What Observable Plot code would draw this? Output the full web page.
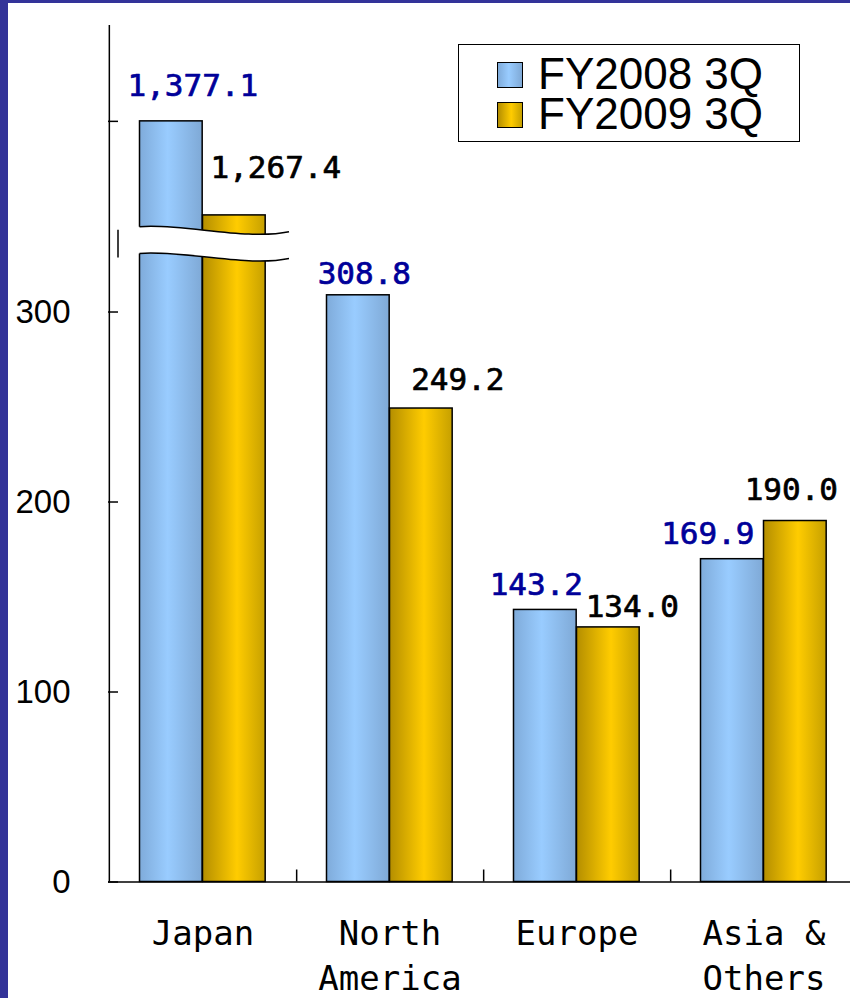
<!DOCTYPE html>
<html>
<head>
<meta charset="utf-8">
<script src="https://cdn.jsdelivr.net/npm/d3@7"></script>
<script src="https://cdn.jsdelivr.net/npm/@observablehq/plot@0.6"></script>
<style>
  html, body { margin: 0; padding: 0; background: #fff; overflow: hidden; }
  #chart { position: relative; width: 850px; height: 998px; overflow: hidden; background: #fff; }
  #chart svg { position: absolute; left: 0; top: 0; overflow: hidden; }
  .edge-left { position: absolute; left: 0; top: 0; width: 8px; height: 998px; background: #333399; }
  .edge-top { position: absolute; left: 0; top: 0; width: 850px; height: 3px; background: #333399; }
  .legend {
    position: absolute; left: 458px; top: 44px; width: 340px; height: 96px;
    border: 1.5px solid #000; background: #fff; box-sizing: content-box;
    font-family: "Liberation Sans", Arial, sans-serif; font-size: 44px; color: #000;
  }
  .legend .sw { position: absolute; left: 38px; width: 24px; height: 24px; border: 1px solid #000; }
  .legend .lab { position: absolute; left: 79px; line-height: 40px; white-space: pre; }
</style>
</head>
<body>
<div id="chart">
  <div class="edge-left"></div>
  <div class="edge-top"></div>
</div>
<script>
// Net sales by region, FY2008 3Q vs FY2009 3Q
const regions = ["Japan", "North America", "Europe", "Asia & Others"];
const regionLabels = ["Japan", "North\nAmerica", "Europe", "Asia &\nOthers"];
const seriesNames = ["FY2008 3Q", "FY2009 3Q"];
const fy2008 = [1377.1, 308.8, 143.2, 169.9];
const fy2009 = [1267.4, 249.2, 134.0, 190.0];
const yTicks = [0, 100, 200, 300];

// Broken value axis: linear up to BREAK_LOW, then a compressed segment from BREAK_HIGH
const BREAK_LOW = 330;
const BREAK_HIGH = 1250;
const BREAK_GAP = 13;
const UPPER_RATIO = 0.4512;
const brk = v => v <= BREAK_LOW ? v : BREAK_LOW + BREAK_GAP + (v - BREAK_HIGH) * UPPER_RATIO;

const seriesColors = [
  { id: "fill2008", stops: [[0, "#7fabda"], [0.45, "#99ccff"], [1, "#7fa9d6"]] },
  { id: "fill2009", stops: [[0, "#b48e00"], [0.55, "#ffcc00"], [1, "#c6a000"]] }
];
const labelColors = ["#000099", "#000000"];

// Layout
const W = 850, H = 998;
const marginLeft = 108, marginRight = -7.3, marginTop = 25, marginBottom = 116.5;
const yMax = 450.8;
const pxPerUnit = (H - marginTop - marginBottom) / yMax;
const bandW = (W - marginLeft - marginRight) / regions.length;
const barW = 63;
const pairInset = 30.5;
const insets = [
  { insetLeft: pairInset, insetRight: bandW - pairInset - barW },
  { insetLeft: pairInset + barW, insetRight: bandW - pairInset - 2 * barW }
];
const barCenterOffset = s => pairInset + barW * s + barW / 2 - bandW / 2;

// Per-label placement: horizontal shift from the bar centre, gap above the bar top (px)
const labelShift = [[21.5, 41.5], [6, 36.5], [-9, 24], [-24.5, -4]];
const labelGap = [[25, 37], [11, 19], [15, 10], [15, 21]];

const rows = regions.flatMap((region, i) => [
  { region, i, s: 0, series: seriesNames[0], value: fy2008[i] },
  { region, i, s: 1, series: seriesNames[1], value: fy2009[i] }
]);

const fmt = d3.format(",.1f");
const monoFont = "'DejaVu Sans Mono', monospace";

const labelMarks = rows.map(d => Plot.text([d], {
  x: "region",
  y: r => brk(r.value),
  text: r => fmt(r.value),
  lineAnchor: "bottom",
  dx: barCenterOffset(d.s) + labelShift[d.i][d.s],
  dy: -labelGap[d.i][d.s],
  fill: labelColors[d.s],
  stroke: labelColors[d.s],
  strokeWidth: 0.7,
  fontSize: 31,
  fontFamily: monoFont
}));

const axisTicks = yTicks.concat([brk(fy2008[0])]);

const plot = Plot.plot({
  width: W,
  height: H,
  marginLeft, marginRight, marginTop, marginBottom,
  style: { background: "transparent", overflow: "hidden" },
  x: { type: "band", domain: regions, padding: 0, axis: null, label: null },
  y: { domain: [0, yMax], axis: null, label: null },
  marks: [
    // bars
    ...[0, 1].map(s => Plot.barY(rows.filter(d => d.s === s), {
      x: "region",
      y: d => brk(d.value),
      fill: `url(#${seriesColors[s].id})`,
      stroke: "#000",
      strokeWidth: 1.5,
      ...insets[s]
    })),
    // axis lines
    Plot.ruleY([0], { stroke: "#000", strokeWidth: 1.5 }),
    Plot.ruleX([regions[0]], { dx: -bandW / 2, y1: 0, y2: yMax, stroke: "#000", strokeWidth: 1.5 }),
    // category separators
    Plot.ruleX(regions.slice(0, -1), { dx: bandW / 2, y1: 0, y2: 12 / pxPerUnit, stroke: "#000", strokeWidth: 1.5 }),
    // value axis
    Plot.axisY(axisTicks, {
      label: null,
      tickSize: -10,
      tickPadding: 48,
      strokeWidth: 1.5,
      stroke: "#000",
      tickFormat: d => yTicks.includes(d) ? String(d) : "",
      fontSize: 33,
      fontFamily: "'Liberation Sans', Arial, sans-serif",
      fill: "#000"
    }),
    // category axis
    Plot.axisX({
      label: null,
      tickSize: 0,
      tickPadding: 32,
      tickFormat: d => regionLabels[regions.indexOf(d)],
      fontSize: 34,
      lineHeight: 1.3,
      fontFamily: monoFont,
      fill: "#000",
      stroke: "#000",
      strokeWidth: 0.6
    }),
    ...labelMarks
  ]
});

document.getElementById("chart").prepend(plot);

// gradients for the bar fills
const svg = d3.select(plot);
const defs = svg.insert("defs", ":first-child");
for (const c of seriesColors) {
  const g = defs.append("linearGradient").attr("id", c.id).attr("x1", 0).attr("x2", 1).attr("y1", 0).attr("y2", 0);
  for (const [o, col] of c.stops) g.append("stop").attr("offset", o).attr("stop-color", col);
}

// axis-break band across the Japan bars
const xs = plot.scale("x"), ys = plot.scale("y");
const x0 = xs.apply(regions[0]);
const yT = ys.apply(BREAK_LOW + BREAK_GAP) - 3;
const yB = ys.apply(BREAK_LOW) - 1;
const bx = [x0 + 9, x0 + pairInset, x0 + 72, x0 + 137, x0 + 180];
const wave = (y0) => `M${bx[1]},${y0} C${bx[2]},${y0 - 4} ${bx[3]},${y0 + 14} ${bx[4]},${y0 + 5}`;
const waveBack = (y0) => `L${bx[4]},${y0 + 5} C${bx[3]},${y0 + 14} ${bx[2]},${y0 - 4} ${bx[1]},${y0}`;
const brkG = svg.append("g").attr("class", "axis-break");
brkG.append("path")
  .attr("d", `M${bx[0]},${yT} L${bx[1]},${yT} C${bx[2]},${yT - 4} ${bx[3]},${yT + 14} ${bx[4]},${yT + 5} L${bx[4] + 2},${yT + 5} L${bx[4] + 2},${yB + 5} ` + waveBack(yB) + ` L${bx[0]},${yB} Z`)
  .attr("fill", "#fff");
for (const y0 of [yT, yB]) {
  brkG.append("path").attr("d", wave(y0)).attr("fill", "none").attr("stroke", "#000").attr("stroke-width", 1.5);
}
brkG.append("line").attr("x1", bx[0]).attr("x2", bx[0]).attr("y1", yT + 3).attr("y2", yB + 4)
  .attr("stroke", "#000").attr("stroke-width", 1.5);

// legend
const legend = document.createElement("div");
legend.className = "legend";
seriesNames.forEach((name, s) => {
  const sw = document.createElement("div");
  sw.className = "sw";
  sw.style.top = (16.5 + 40 * s) + "px";
  const st = seriesColors[s].stops.map(([o, c]) => `${c} ${o * 100}%`).join(", ");
  sw.style.background = `linear-gradient(to right, ${st})`;
  const lab = document.createElement("div");
  lab.className = "lab";
  lab.style.top = (9 + 40 * s) + "px";
  lab.textContent = name;
  legend.appendChild(sw);
  legend.appendChild(lab);
});
document.getElementById("chart").appendChild(legend);
</script>
</body>
</html>
